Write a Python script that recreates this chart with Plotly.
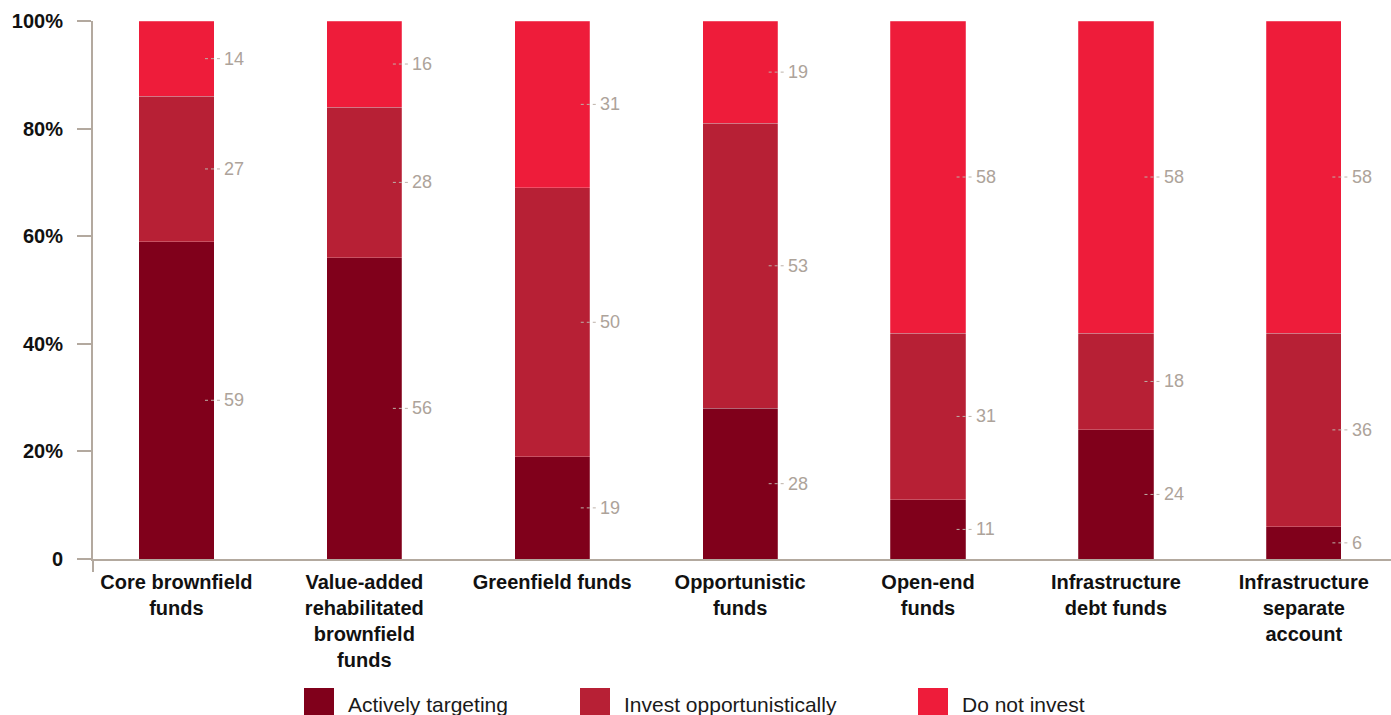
import plotly.graph_objects as go

# Fund categories and survey shares (%) for each response
categories = [
    "Core brownfield<br>funds",
    "Value-added<br>rehabilitated<br>brownfield<br>funds",
    "Greenfield funds",
    "Opportunistic<br>funds",
    "Open-end<br>funds",
    "Infrastructure<br>debt funds",
    "Infrastructure<br>separate<br>account",
]
actively_targeting = [59, 56, 19, 28, 11, 24, 6]
invest_opportunistically = [27, 28, 50, 53, 31, 18, 36]
do_not_invest = [14, 16, 31, 19, 58, 58, 58]

series_names = ["Actively targeting", "Invest opportunistically", "Do not invest"]
series_values = [actively_targeting, invest_opportunistically, do_not_invest]
series_colors = ["#80001b", "#b72035", "#ee1c3a"]

y_tick_vals = [0, 20, 40, 60, 80, 100]
y_tick_text = ["0", "20%", "40%", "60%", "80%", "100%"]

W, H = 1391, 715
ML, MR, MT, MB = 93, 0, 21, 156
PW, PH = W - ML - MR, H - MT - MB
AXIS_COLOR = "#b3a99f"
LABEL_COLOR = "#ada39a"
FONT = "Liberation Sans, Arial, Helvetica, sans-serif"
BAR_WIDTH = 0.4


def px_x(px):
    return (px - ML) / PW


def px_y(py):
    return (H - MB - py) / PH


x_idx = list(range(len(categories)))

fig = go.Figure()
for name, vals, color in zip(series_names, series_values, series_colors):
    fig.add_trace(go.Bar(
        x=x_idx, y=vals, name=name, width=BAR_WIDTH,
        marker=dict(color=color, line=dict(color="rgba(255,255,255,0.45)", width=0.5)),
        showlegend=False, hoverinfo="y+name",
    ))

# Value labels with dotted leaders at each segment's midpoint
shapes = []
annotations = []
for i in x_idx:
    base = 0
    for vals in series_values:
        v = vals[i]
        mid = base + v / 2
        base += v
        xr = i + BAR_WIDTH / 2
        shapes.append(dict(type="line", xref="x", yref="y",
                           x0=xr - 0.048, x1=xr + 0.042, y0=mid, y1=mid,
                           line=dict(color="#bdb2a9", width=1, dash="dot")))
        annotations.append(dict(x=xr + 0.044, y=mid, xref="x", yref="y",
                                text=str(v), showarrow=False,
                                xanchor="left", yanchor="middle",
                                font=dict(size=18, color=LABEL_COLOR, family=FONT)))

# Short extension of the vertical axis below the baseline
shapes.append(dict(type="line", xref="paper", yref="paper",
                   x0=0, x1=0, y0=0, y1=px_y(572),
                   line=dict(color=AXIS_COLOR, width=2)))

# Legend drawn as large swatches with labels
legend_left = [304, 580, 918]
for name, color, lx in zip(series_names, series_colors, legend_left):
    shapes.append(dict(type="rect", xref="paper", yref="paper",
                       x0=px_x(lx), x1=px_x(lx + 30),
                       y0=px_y(688), y1=px_y(718),
                       fillcolor=color, line=dict(width=0)))
    annotations.append(dict(x=px_x(lx + 42), y=px_y(704), xref="paper", yref="paper",
                            text=name, showarrow=False,
                            xanchor="left", yanchor="middle",
                            font=dict(size=21, color="#1a1a1a", family=FONT)))

fig.update_layout(
    width=W, height=H,
    margin=dict(l=ML, r=MR, t=MT, b=MB),
    barmode="stack",
    plot_bgcolor="white", paper_bgcolor="white",
    font=dict(family=FONT),
    shapes=shapes, annotations=annotations,
    xaxis=dict(
        range=[-0.444, 6.464],
        tickvals=x_idx, ticktext=categories,
        showline=True, linecolor=AXIS_COLOR, linewidth=2,
        ticks="", showgrid=False, zeroline=False,
        tickfont=dict(size=20, color="#111111", family=FONT, weight="bold"),
        ticklabelstandoff=4,
    ),
    yaxis=dict(
        range=[0, 100],
        tickvals=y_tick_vals, ticktext=y_tick_text,
        showline=True, linecolor=AXIS_COLOR, linewidth=2,
        ticks="outside", ticklen=14, tickwidth=2, tickcolor=AXIS_COLOR,
        showgrid=False, zeroline=False,
        tickfont=dict(size=20, color="#111111", family=FONT, weight="bold"),
        ticklabelstandoff=10,
    ),
)

fig.write_html("out.html")
